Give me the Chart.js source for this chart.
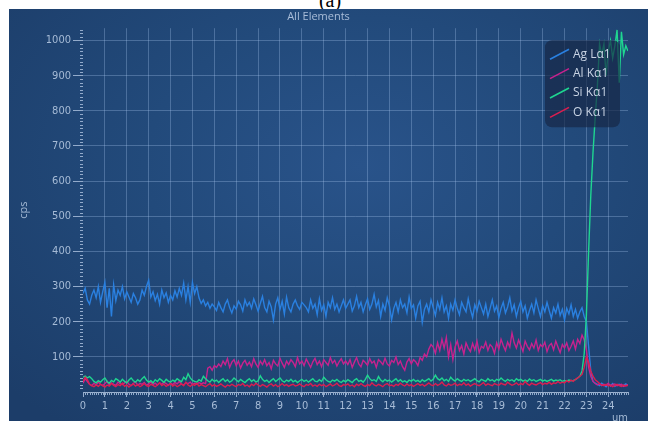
<!DOCTYPE html>
<html><head><meta charset="utf-8">
<script src="https://cdn.jsdelivr.net/npm/chart.js@4/dist/chart.umd.min.js"></script>
<style>
html,body{margin:0;padding:0;background:#fff;width:648px;height:426px;overflow:hidden;position:relative}
#cap{position:absolute;left:0;width:660px;top:-11px;text-align:center;font:20px 'Liberation Serif','DejaVu Serif',serif;color:#000}
#panel{position:absolute;left:9px;top:9px;width:639px;height:412px;background:radial-gradient(ellipse 75% 80% at 55% 38%,#29538a 0%,#224a7b 45%,#1c3d69 100%)}
#wrap{position:absolute;left:9px;top:9px;width:622px;height:417px}
</style></head>
<body>
<div id="cap">(a)</div>
<div id="panel"></div>
<div id="wrap"><canvas id="c"></canvas></div>
<script>
// sampling positions along the line scan (um), 0.1 um step
const positions = Array.from({length: 250}, (_, i) => +(i * 0.1).toFixed(1));
const seriesNames = ['Ag L\u03b11', 'Al K\u03b11', 'Si K\u03b11', 'O K\u03b11'];
const xTickLabels = ['0','1','2','3','4','5','6','7','8','9','10','11','12','13','14','15','16','17','18','19','20','21','22','23','24'];
const yTickLabels = ['100','200','300','400','500','600','700','800','900','1000'];

const agLa1 = [
280,295,262,250,275,290,268,300,255,285,312,240,295,215,305,260,290,275,300,265,
285,270,255,280,268,250,262,290,275,300,318,270,285,260,278,250,290,268,282,255,
275,262,288,270,295,275,310,262,300,255,312,280,300,268,252,262,
245,255,238,250,242,232,255,240,228,250,262,240,225,245,236,258,248,230,262,245,
255,238,265,248,230,252,272,240,228,258,242,205,250,268,235,258,222,270,240,228,
250,262,245,235,255,248,240,228,262,238,250,220,265,232,248,215,255,240,268,235,
250,228,245,262,238,
250,262,230,245,272,240,255,228,248,265,235,250,278,242,260,215,250,232,268,245,
205,238,255,228,262,240,250,225,270,238,248,210,245,258,198,235,250,228,262,240,
218,255,235,268,228,245,210,250,232,262,238,220,255,240,228,265,235,212,248,230,
258,240,222,250,215,238,262,230,245,212,238,255,225,242,268,230,248,215,240,258,
228,245,210,232,250,225,262,238,215,245,228,255,232,210,240,225,250,218,235,205,
238,222,248,215,235,210,228,240,215,
200,130,60,30,25,22,18,25,20,15,22,18,24,16,20,22,17,19,23,18];

const alKa1 = [
25,38,30,22,18,25,20,28,22,18,24,30,20,26,22,19,28,24,21,26,
30,22,18,25,28,20,24,22,27,19,23,29,21,25,20,26,22,28,24,19,
25,21,27,23,30,22,20,26,24,28,21,25,22,27,23,26,24,
68,72,62,75,70,80,72,88,78,95,70,85,92,75,88,68,82,90,76,85,
72,95,80,70,88,78,92,75,84,66,90,80,74,96,82,70,88,78,92,84,
72,98,80,88,75,94,82,70,86,96,78,88,72,92,84,76,98,82,90,74,
86,95,80,88,
78,92,70,85,98,80,72,90,84,76,95,82,88,70,92,86,78,96,80,74,
90,84,100,78,88,72,62,85,95,80,92,86,75,98,90,108,100,
122,135,128,110,140,118,150,125,155,100,135,92,128,145,118,132,108,140,125,115,
138,120,145,112,130,125,142,118,135,128,110,140,122,150,132,118,142,128,168,140,
125,148,132,115,145,130,120,138,125,148,118,135,128,142,115,132,138,120,145,128,
112,135,125,140,118,130,145,122,150,138,162,148,
120,70,45,30,24,20,24,18,22,19,25,17,21,23,18,20,22,16,19,21];

const siKa1 = [
42,45,40,44,38,30,26,32,28,35,40,30,25,33,29,38,34,28,36,30,
26,34,40,32,28,35,30,38,44,34,28,32,26,35,30,38,33,27,36,31,
28,34,30,38,33,29,42,35,52,40,33,30,28,35,31,45,38,32,28,36,
30,34,27,33,38,30,35,28,32,40,34,29,36,31,27,33,38,30,35,28,
32,46,36,30,34,27,33,38,30,35,40,32,28,34,30,36,29,33,27,32,
36,30,34,28,33,38,31,29,35,30,42,35,30,28,34,31,36,30,27,33,
29,35,31,27,34,38,30,33,28,36,48,38,32,35,30,44,34,29,36,31,
34,28,33,38,30,35,29,32,27,34,31,36,30,33,28,35,30,34,38,31,
36,48,38,34,40,32,36,30,42,35,31,38,33,30,36,32,35,30,34,38,
32,29,36,33,30,38,32,35,30,36,33,40,34,30,36,32,35,30,38,33,
36,31,34,30,37,32,35,30,33,36,31,34,30,33,36,31,34,32,35,30,
33,31,34,32,33,35,40,45,
60,110,220,400,560,680,780,870,990,960,990,900,970,1000,950,985,1030,880,1025,960,
985,970];

const oKa1 = [
30,42,35,22,18,15,20,16,22,18,14,20,17,24,19,15,21,18,25,16,
20,14,19,23,17,21,15,19,24,18,16,22,19,15,20,26,18,22,16,20,
24,17,21,15,19,23,18,28,20,16,22,19,25,17,21,18,15,20,24,17,
21,16,19,23,18,14,20,17,22,18,15,21,19,24,17,20,15,22,18,25,
20,16,21,18,14,20,23,17,21,15,19,24,18,21,16,20,22,17,19,23,
18,15,21,19,24,17,20,16,22,18,21,15,19,23,17,20,25,18,16,21,
19,23,17,20,15,22,18,24,19,16,21,18,26,20,17,22,19,15,21,24,
18,20,16,22,19,25,20,17,23,18,21,16,20,24,19,22,17,21,26,20,
18,24,19,22,28,20,17,23,19,21,25,18,22,20,26,19,23,17,21,24,
20,18,22,27,19,23,20,18,24,21,19,25,22,20,28,23,19,22,26,20,
24,21,30,23,19,25,22,20,24,27,21,25,23,28,22,26,24,30,25,28,
26,32,28,34,30,36,40,45,
50,70,100,85,60,45,35,30,24,20,18,22,17,20,15,19,22,18,16,20,
17,19];

const lineColors = ['#2a80e0', '#c8228e', '#1fd690', '#dc1e50'];
const allSeries = [agLa1, alKa1, siKa1, oKa1];
const gridCol = 'rgba(165,195,235,0.32)';
const tickCol = '#93abcb';
const labelCol = '#a6bbd6';
const narrow = "'Liberation Sans Narrow','DejaVu Sans Condensed',Roboto,sans-serif";

const datasets = allSeries.map((vals, k) => ({
  label: seriesNames[k],
  data: positions.map((p, i) => ({x: p, y: vals[i]})),
  borderColor: lineColors[k],
  backgroundColor: lineColors[k],
  borderWidth: 1.4,
  pointRadius: 0,
  tension: 0,
  order: 4 - k
}));

const overlay = {
  id: 'overlay',
  afterDraw(chart) {
    const ctx = chart.ctx, a = chart.chartArea;
    const xs = chart.scales.x, ys = chart.scales.y;
    ctx.save();
    ctx.strokeStyle = tickCol; ctx.lineWidth = 1;
    ctx.beginPath();
    for (let v = 10; v <= ys.max; v += 10) {
      if (v % 100 === 0) continue;
      const py = Math.round(ys.getPixelForValue(v)) + 0.5;
      ctx.moveTo(a.left - 3, py); ctx.lineTo(a.left, py);
    }
    positions.forEach(p => {
      const px = Math.round(xs.getPixelForValue(p)) + 0.5;
      ctx.moveTo(px, a.bottom); ctx.lineTo(px, a.bottom + 3);
    });
    ctx.stroke();
    // legend
    const w = 75, h = 87, x0 = a.right - 8 - w, y0 = a.top + 12;
    ctx.fillStyle = 'rgba(22,38,70,0.68)';
    ctx.beginPath();
    ctx.roundRect(x0, y0, w, h, 7);
    ctx.fill();
    ctx.font = "12px 'Open Sans', Lato, sans-serif";
    ctx.textBaseline = 'middle';
    ctx.textAlign = 'left';
    chart.data.datasets.forEach((ds, i) => {
      const cy = y0 + 14 + i * 19.4;
      ctx.strokeStyle = ds.borderColor; ctx.lineWidth = 1.6;
      ctx.beginPath(); ctx.moveTo(x0 + 5, cy + 5); ctx.lineTo(x0 + 24, cy - 5); ctx.stroke();
      ctx.fillStyle = '#c9d4e4';
      ctx.fillText(ds.label, x0 + 28, cy);
    });
    ctx.restore();
  }
};

new Chart(document.getElementById('c'), {
  type: 'line',
  data: { datasets },
  options: {
    responsive: true, maintainAspectRatio: false, animation: false, devicePixelRatio: 1,
    layout: { padding: { left: 0, right: 3, top: 0, bottom: 0 } },
    plugins: {
      legend: { display: false },
      tooltip: { enabled: false },
      title: { display: true, text: 'All Elements', color: '#a9bdd9',
        font: { size: 11, family: "'Open Sans', Lato, sans-serif", weight: 'normal', lineHeight: 1.2 },
        padding: { top: 1, bottom: 5 } }
    },
    scales: {
      x: {
        type: 'linear', min: 0, max: 24.9,
        afterFit(s) { s.height = 34; },
        afterBuildTicks(s) { s.ticks = xTickLabels.map(t => ({ value: Number(t) })); },
        ticks: { stepSize: 1, color: labelCol, padding: 3, autoSkip: false, maxRotation: 0,
          font: { size: 11, family: narrow }, callback: v => String(v) },
        grid: { color: c => (c.tick && c.tick.value === 0) ? 'rgba(0,0,0,0)' : gridCol, tickColor: tickCol, tickLength: 5, lineWidth: 1 },
        border: { display: true, color: '#9fb4d0', width: 1 },
        title: { display: true, text: 'um', align: 'end', color: labelCol,
          font: { size: 11, family: narrow }, padding: { top: 0, bottom: 1.5 } }
      },
      y: {
        type: 'linear', min: 0, max: 1035,
        afterFit(s) { s.width = 74; },
        afterBuildTicks(s) { s.ticks = yTickLabels.map(t => ({ value: Number(t) })); },
        ticks: { stepSize: 100, color: labelCol, padding: 2, autoSkip: false,
          font: { size: 11, family: narrow }, callback: v => String(v) },
        grid: { color: gridCol, tickColor: tickCol, tickLength: 10, lineWidth: 1 },
        border: { display: false },
        title: { display: true, text: 'cps', color: labelCol,
          font: { size: 11, family: "'Open Sans', Lato, sans-serif" }, padding: { top: 8, bottom: 0 } }
      }
    }
  },
  plugins: [overlay]
});
</script>
</body></html>
